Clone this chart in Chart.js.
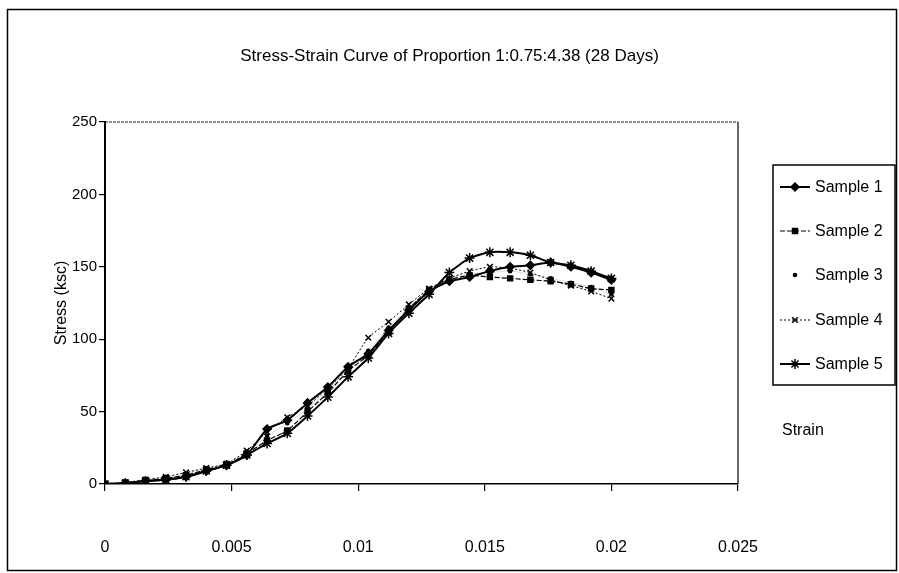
<!DOCTYPE html>
<html>
<head>
<meta charset="utf-8">
<style>
html,body{margin:0;padding:0;background:#fff;}
#wrap{position:relative;width:899px;height:573px;}
canvas{display:block;}
</style>
<script src="https://cdn.jsdelivr.net/npm/chart.js@4/dist/chart.umd.min.js"></script>
</head>
<body>
<div id="wrap"><canvas id="c" width="899" height="573"></canvas></div>
<script>
const chartTitle = "Stress-Strain Curve of Proportion 1:0.75:4.38 (28 Days)";
const xAxisTitle = "Strain";
const yAxisTitle = "Stress (ksc)";
const seriesNames = ["Sample 1", "Sample 2", "Sample 3", "Sample 4", "Sample 5"];
const xTicks = [0, 0.005, 0.01, 0.015, 0.02, 0.025];
const yTicks = [0, 50, 100, 150, 200, 250];

const strain = [0, 0.0008, 0.0016, 0.0024, 0.0032, 0.004, 0.0048, 0.0056, 0.0064, 0.0072,
  0.008, 0.0088, 0.0096, 0.0104, 0.0112, 0.012, 0.0128, 0.0136, 0.0144, 0.0152,
  0.016, 0.0168, 0.0176, 0.0184, 0.0192, 0.02];
const sample1 = [0, 0.5, 2, 3, 5, 9, 13, 20, 38, 44, 56, 67, 81, 90, 106, 120, 133, 140, 143, 147, 150, 151, 153, 150, 146, 141];
const sample2 = [0, 1, 2, 4, 6, 10, 13, 21, 30, 37, 50, 63, 78, 89, 105, 121, 134, 141, 144, 143, 142, 141, 140, 138, 135, 134];
const sample3 = [0, 1, 3, 4, 7, 11, 14, 22, 33, 42, 52, 64, 79, 92, 108, 122, 134, 142, 145, 146, 147, 145, 142, 139, 136, 131];
const sample4 = [0, 1, 3, 5, 8, 11, 14, 23, 36, 46, 54, 66, 80, 101, 112, 124, 135, 142, 147, 150, 149, 146, 141, 137, 133, 128];
const sample5 = [0, 0.5, 2, 3, 5, 9, 13, 20, 28, 35, 47, 60, 74, 87, 104, 118, 131, 146, 156, 160, 160, 158, 153, 151, 147, 142];

const FONT = "'Liberation Sans', Arial, Helvetica, sans-serif";

function pts(ys){ return strain.map((x,i)=>({x:x, y:ys[i]})); }

const styles = [
  {borderWidth:2, dash:[], pointStyle:'rectRot', radius:4, lineColor:'#000'},
  {borderWidth:1.2, dash:[5,2], pointStyle:'rect', radius:3.5, lineColor:'#000'},
  {borderWidth:1, dash:[], pointStyle:'circle', radius:1.6, lineColor:'rgba(0,0,0,0.15)'},
  {borderWidth:1, dash:[2,2], pointStyle:'crossRot', radius:4, lineColor:'#000'},
  {borderWidth:2, dash:[], pointStyle:'star', radius:5, lineColor:'#000'}
];
const allSeries = [sample1, sample2, sample3, sample4, sample5];

const datasets = allSeries.map((s,i)=>({
  label: seriesNames[i],
  data: pts(s),
  showLine: true,
  borderColor: styles[i].lineColor,
  borderWidth: styles[i].borderWidth,
  borderDash: styles[i].dash,
  tension: 0.2,
  pointStyle: styles[i].pointStyle,
  pointRadius: styles[i].radius,
  pointBorderColor: '#000',
  pointBackgroundColor: '#000',
  pointBorderWidth: 1.5,
  fill: false,
  yAxisID: 'y'
}));

const decor = {
  id: 'decor',
  afterDraw(chart){
    const ctx = chart.ctx;
    const a = chart.chartArea;
    ctx.save();
    // outer frame
    ctx.strokeStyle = '#000';
    ctx.lineWidth = 1.5;
    ctx.setLineDash([]);
    ctx.strokeRect(7.5, 9.5, 889, 561);
    // plot area top (dotted) and right edges
    ctx.lineWidth = 1.2;
    ctx.setLineDash([3,1]);
    ctx.strokeStyle = '#222';
    ctx.beginPath();
    ctx.moveTo(a.left, a.top); ctx.lineTo(a.right, a.top);
    ctx.stroke();
    ctx.setLineDash([]);
    ctx.strokeStyle = '#000';
    ctx.beginPath();
    ctx.moveTo(a.right, a.top); ctx.lineTo(a.right, a.bottom);
    ctx.stroke();
    // legend
    const lx = 773, ly = 165, lw = 122, lh = 220;
    ctx.lineWidth = 1.5;
    ctx.strokeRect(lx, ly, lw, lh);
    const rows = [187, 231, 275, 320, 364];
    chart.data.datasets.forEach((ds,i)=>{
      const y = rows[i];
      const st = styles[i];
      if (i !== 2) {
        ctx.save();
        ctx.strokeStyle = '#000';
        ctx.lineWidth = st.borderWidth;
        ctx.setLineDash(st.dash);
        ctx.beginPath(); ctx.moveTo(780, y); ctx.lineTo(810, y); ctx.stroke();
        ctx.restore();
      }
      ctx.save();
      ctx.fillStyle = '#000'; ctx.strokeStyle = '#000'; ctx.lineWidth = 1.5;
      Chart.helpers.drawPoint(ctx, {pointStyle: st.pointStyle, radius: st.radius, rotation: 0, borderWidth: 1.5}, 795, y);
      ctx.restore();
      ctx.fillStyle = '#000';
      ctx.font = '16px ' + FONT;
      ctx.textAlign = 'left';
      ctx.textBaseline = 'middle';
      ctx.fillText(ds.label, 815, y + 1);
    });
    // x-axis title (placed at right as in the reference)
    ctx.font = '16px ' + FONT;
    ctx.textAlign = 'left';
    ctx.textBaseline = 'middle';
    ctx.fillText(xAxisTitle, 782, 431);
    ctx.restore();
  }
};

new Chart(document.getElementById('c'), {
  type: 'scatter',
  data: { datasets },
  options: {
    responsive: false,
    animation: false,
    layout: { padding: { left: 0, right: 0, top: 0, bottom: 0 } },
    plugins: {
      legend: { display: false },
      tooltip: { enabled: false },
      title: {
        display: true,
        text: chartTitle,
        color: '#000',
        font: { family: FONT, size: 17, weight: 'normal' },
        padding: { top: 46, bottom: 55.6 }
      }
    },
    scales: {
      x: {
        type: 'linear',
        min: 0, max: 0.025,
        afterBuildTicks(scale){ scale.ticks = xTicks.map(v=>({value:v})); },
        afterFit(scale){ scale.height = 89; },
        border: { display: true, color: '#000', width: 1.5 },
        grid: { display: true, drawOnChartArea: false, drawTicks: true, tickLength: 7, color: '#000', lineWidth: 1.2 },
        ticks: {
          color: '#000', padding: 47, maxRotation: 0,
          font: { family: FONT, size: 16 },
          callback: v => String(+Number(v).toFixed(3))
        }
      },
      y: {
        type: 'linear',
        min: 0, max: 250,
        afterBuildTicks(scale){ scale.ticks = yTicks.map(v=>({value:v})); },
        afterFit(scale){ scale.width = 105; },
        border: { display: true, color: '#000', width: 2 },
        grid: { display: true, drawOnChartArea: false, drawTicks: true, tickLength: 6, color: '#000', lineWidth: 1.2 },
        ticks: { color: '#000', padding: 2, font: { family: FONT, size: 15 } },
        title: {
          display: true, text: yAxisTitle, color: '#000',
          font: { family: FONT, size: 16 },
          padding: { top: 52, bottom: 0 }
        }
      },
      yRight: {
        type: 'linear',
        position: 'right',
        display: true,
        min: 0, max: 1,
        afterFit(scale){ scale.width = 161; },
        border: { display: false },
        grid: { display: false, drawTicks: false },
        ticks: { display: false }
      }
    }
  },
  plugins: [decor]
});
</script>
</body>
</html>
